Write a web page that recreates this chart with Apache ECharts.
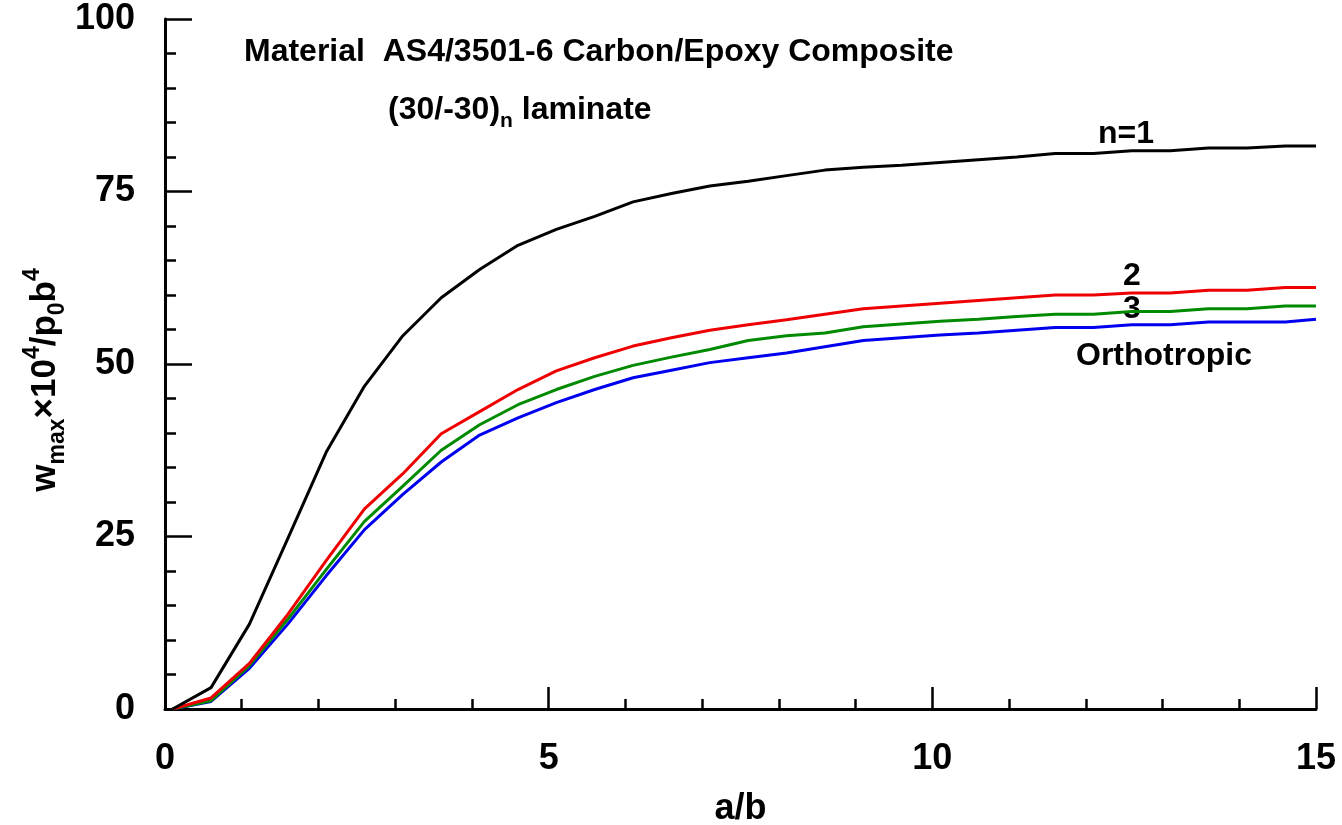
<!DOCTYPE html>
<html>
<head>
<meta charset="utf-8">
<title>w_max vs a/b</title>
<script src="https://cdn.jsdelivr.net/npm/echarts@6/dist/echarts.min.js"></script>
<style>
  html, body { margin: 0; padding: 0; background: #fff; }
  #chart { width: 1342px; height: 825px; }
</style>
</head>
<body>
<div id="chart"></div>
<script>
// a/b sample positions
const aOverB = [0.1, 0.6, 1.1, 1.6, 2.1, 2.6, 3.1, 3.6, 4.1, 4.6, 5.1, 5.6, 6.1, 6.6, 7.1, 7.6,
  8.1, 8.6, 9.1, 9.6, 10.1, 10.6, 11.1, 11.6, 12.1, 12.6, 13.1, 13.6, 14.1, 14.6, 15.0]

// w_max x 10^4 / p0 b^4
const n1 = [0, 3.1, 12.3, 24.7, 37.2, 46.8, 54.1, 59.6, 63.7, 67.2, 69.5, 71.4, 73.5, 74.7, 75.8, 76.5,
  77.3, 78.1, 78.5, 78.8, 79.2, 79.6, 80.0, 80.5, 80.5, 80.9, 80.9, 81.3, 81.3, 81.6, 81.6]
const n2 = [0, 1.6, 6.6, 13.7, 21.5, 29.0, 34.1, 39.9, 43.1, 46.3, 49.0, 50.9, 52.6, 53.8, 54.9, 55.7,
  56.4, 57.2, 58.0, 58.4, 58.8, 59.2, 59.6, 60.0, 60.0, 60.3, 60.3, 60.7, 60.7, 61.1, 61.1]
const n3 = [0, 1.2, 6.3, 13.0, 20.2, 27.2, 32.3, 37.5, 41.2, 44.1, 46.3, 48.2, 49.8, 51.0, 52.1, 53.4,
  54.1, 54.5, 55.4, 55.8, 56.2, 56.5, 56.9, 57.2, 57.2, 57.6, 57.6, 58.0, 58.0, 58.4, 58.4]
const orthotropic = [0, 1.1, 5.9, 12.3, 19.3, 26.0, 31.1, 35.8, 39.7, 42.2, 44.4, 46.3, 48.0, 49.1, 50.2, 50.9,
  51.6, 52.5, 53.4, 53.8, 54.2, 54.5, 54.9, 55.3, 55.3, 55.7, 55.7, 56.1, 56.1, 56.1, 56.5]

const xTicks = [0, 5, 10, 15]
const yTicks = [0, 25, 50, 75, 100]

const font = '"Liberation Sans", Arial, Helvetica, sans-serif'

const pairs = (ys) => aOverB.map((x, i) => [x, ys[i]])

const makeLine = (name, ys, color) => ({
  name,
  type: 'line',
  data: pairs(ys),
  showSymbol: false,
  symbol: 'none',
  smooth: false,
  lineStyle: { color, width: 3 },
  itemStyle: { color },
  animation: false
})

const chart = echarts.init(document.getElementById('chart'), null, { renderer: 'canvas' })

const tickLabel = {
  color: '#000',
  fontSize: 36,
  fontWeight: 'bold',
  fontFamily: font
}

const note = (text, x, y) => ({
  type: 'text',
  x,
  y,
  style: { text, fontSize: 32, fontWeight: 'bold', fontFamily: font, fill: '#000', align: 'center', verticalAlign: 'middle' }
})

const option = {
  backgroundColor: '#fff',
  animation: false,
  // keep the plot box fixed, labels may sit near the page edge
  grid: { left: 165, right: 26, top: 19, bottom: 116, containLabel: false, outerBoundsMode: 'none' },
  xAxis: {
    type: 'value',
    min: xTicks[0],
    max: xTicks[xTicks.length - 1],
    interval: 5,
    name: 'a/b',
    nameLocation: 'middle',
    nameGap: 82,
    nameTextStyle: tickLabel,
    axisLine: { lineStyle: { color: '#000', width: 3 } },
    axisTick: { inside: true, length: 22, lineStyle: { color: '#000', width: 2.5 } },
    minorTick: { show: true, splitNumber: 5, length: 10, lineStyle: { color: '#000', width: 2.5 } },
    splitLine: { show: false },
    axisLabel: { ...tickLabel, margin: 32 }
  },
  yAxis: {
    type: 'value',
    min: yTicks[0],
    max: yTicks[yTicks.length - 1],
    interval: 25,
    axisLine: { show: true, lineStyle: { color: '#000', width: 3 } },
    axisTick: { show: true, inside: true, length: 27, lineStyle: { color: '#000', width: 2.5 } },
    minorTick: { show: true, splitNumber: 5, length: 11, lineStyle: { color: '#000', width: 2.5 } },
    splitLine: { show: false },
    axisLabel: { ...tickLabel, margin: 30 }
  },
  graphic: [
    {
      type: 'text',
      x: 45,
      y: 380,
      rotation: Math.PI / 2,
      style: {
        text: '{b|w}{s|max}{b|×10}{p|4}{b|/p}{s|0}{b|b}{p|4}',
        align: 'center',
        verticalAlign: 'middle',
        fill: '#000',
        rich: {
          b: { fontSize: 35, fontWeight: 'bold', fontFamily: font, lineHeight: 48, verticalAlign: 'middle' },
          s: { fontSize: 23, fontWeight: 'bold', fontFamily: font, lineHeight: 23, verticalAlign: 'bottom' },
          p: { fontSize: 23, fontWeight: 'bold', fontFamily: font, lineHeight: 23, verticalAlign: 'top' }
        }
      }
    },
    {
      type: 'text',
      x: 244,
      y: 52,
      style: {
        text: 'Material  AS4/3501-6 Carbon/Epoxy Composite',
        fontSize: 32,
        fontWeight: 'bold',
        fontFamily: font,
        fill: '#000',
        align: 'left',
        verticalAlign: 'middle'
      }
    },
    {
      type: 'text',
      x: 388,
      y: 110,
      style: {
        text: '{t|(30/-30)}{s|n}{t| laminate}',
        align: 'left',
        verticalAlign: 'middle',
        fill: '#000',
        rich: {
          t: { fontSize: 32, fontWeight: 'bold', fontFamily: font, lineHeight: 44, verticalAlign: 'middle' },
          s: { fontSize: 21, fontWeight: 'bold', fontFamily: font, lineHeight: 21, verticalAlign: 'bottom' }
        }
      }
    },
    note('n=1', 1126, 134),
    note('2', 1132, 276),
    note('3', 1132, 309),
    note('Orthotropic', 1164, 356)
  ],
  series: [
    makeLine('Orthotropic', orthotropic, '#0000ee'),
    makeLine('n=3', n3, '#008a00'),
    makeLine('n=2', n2, '#ee0000'),
    makeLine('n=1', n1, '#000000')
  ]
}

chart.setOption(option)
</script>
</body>
</html>
